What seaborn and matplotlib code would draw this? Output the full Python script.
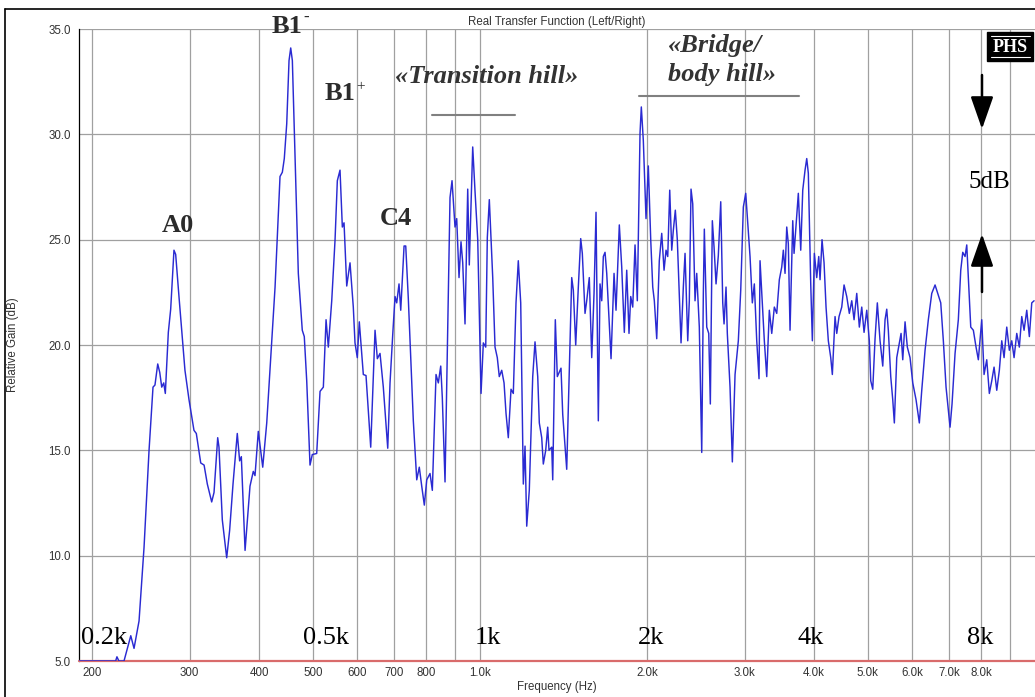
import matplotlib
matplotlib.use("Agg")
import matplotlib.pyplot as plt
import seaborn as sns
import pandas as pd
from matplotlib.lines import Line2D
from matplotlib.patches import Rectangle, FancyArrowPatch

# Measured transfer function (frequency in Hz, relative gain in dB)
freq_hz = [
    189.5, 220.6, 221.8, 223.6, 228.4, 234.9, 238.1, 243.1, 248.2, 253.4,
    257.6, 259.7, 262.7, 264.9, 267.1, 269.3, 271.1, 274.5, 277.2, 281.0,
    283.0, 286.9, 294.1, 299.1, 305.3, 308.3, 314.0, 318.4, 322.7, 328.6,
    331.8, 336.9, 338.7, 343.4, 349.7, 354.0, 359.0, 365.4, 369.0, 371.6,
    377.4, 385.2, 390.5, 393.3, 398.7, 406.1, 412.9, 421.6, 427.4, 433.3,
    436.3, 440.5, 444.1, 448.6, 452.9, 456.1, 459.2, 464.4, 470.7, 478.5,
    482.5, 487.4, 494.1, 498.8, 508.0, 515.1, 522.2, 528.1, 533.1, 540.7,
    548.2, 553.4, 559.6, 565.0, 569.0, 575.4, 583.3, 591.3, 595.5, 601.2,
    606.2, 616.4, 623.3, 635.6, 647.1, 653.3, 660.6, 669.7, 682.1, 688.6,
    696.4, 703.1, 708.0, 714.8, 719.9, 729.9, 735.0, 742.9, 758.5, 769.3,
    777.5, 785.4, 793.9, 801.9, 812.9, 820.7, 833.4, 841.4, 849.8, 855.4,
    865.1, 877.0, 883.2, 890.6, 901.7, 908.1, 916.8, 924.4, 931.0, 939.9,
    950.5, 956.7, 970.4, 979.7, 990.8, 1004.5, 1014.1, 1024.2, 1031.0, 1039.6,
    1054.4, 1064.5, 1074.6, 1083.5, 1094.5, 1105.1, 1114.2, 1124.8, 1137.5, 1148.4,
    1161.3, 1172.4, 1184.2, 1197.1, 1205.6, 1214.1, 1227.1, 1244.7, 1256.6, 1270.8,
    1279.2, 1292.0, 1300.6, 1313.6, 1324.6, 1331.7, 1346.8, 1352.4, 1367.0, 1378.4,
    1399.7, 1409.7, 1433.2, 1463.3, 1473.1, 1487.7, 1503.9, 1518.9, 1529.0, 1546.3,
    1557.2, 1573.9, 1589.9, 1605.2, 1618.5, 1634.0, 1645.6, 1657.3, 1668.3, 1680.2,
    1692.0, 1722.5, 1744.1, 1758.5, 1782.7, 1800.6, 1820.1, 1838.3, 1855.8, 1869.1,
    1884.8, 1902.8, 1920.9, 1942.6, 1953.1, 1969.4, 1991.6, 2010.6, 2030.8, 2047.8,
    2061.4, 2082.0, 2104.3, 2125.7, 2146.2, 2163.9, 2179.3, 2197.4, 2215.7, 2230.5,
    2249.0, 2267.6, 2283.7, 2302.9, 2324.9, 2341.5, 2367.8, 2383.4, 2400.4, 2417.4,
    2440.6, 2457.8, 2484.3, 2509.4, 2526.1, 2536.6, 2562.0, 2583.4, 2600.5, 2622.2,
    2640.9, 2662.8, 2688.2, 2715.2, 2737.9, 2752.8, 2775.5, 2790.4, 2822.0, 2849.1,
    2881.3, 2920.8, 2950.0, 2982.1, 3011.8, 3031.8, 3066.1, 3095.5, 3121.3, 3152.6,
    3182.6, 3196.0, 3226.7, 3253.5, 3286.1, 3321.6, 3355.1, 3391.4, 3425.3, 3462.3,
    3497.2, 3520.4, 3545.4, 3570.4, 3594.0, 3619.6, 3660.5, 3680.4, 3710.8, 3746.3,
    3783.8, 3815.5, 3852.1, 3879.3, 3905.0, 3944.1, 3970.5, 4003.5, 4043.6, 4077.4,
    4099.3, 4133.3, 4168.2, 4202.6, 4242.8, 4285.4, 4314.0, 4362.7, 4393.5, 4435.4,
    4485.6, 4528.8, 4579.6, 4629.0, 4675.7, 4720.7, 4773.6, 4825.2, 4873.7, 4920.6,
    4975.8, 5029.5, 5059.0, 5101.3, 5150.2, 5199.2, 5258.0, 5317.4, 5368.4, 5406.3,
    5442.0, 5496.6, 5542.6, 5579.4, 5635.3, 5696.1, 5736.9, 5777.5, 5832.9, 5888.3,
    5954.9, 6022.2, 6105.0, 6189.0, 6251.2, 6337.4, 6424.3, 6516.0, 6606.0, 6696.6,
    6763.7, 6837.2, 6914.1, 6980.1, 7029.8, 7088.2, 7177.4, 7275.8, 7348.9, 7410.4,
    7481.5, 7534.2, 7584.1, 7660.2, 7743.4, 7830.5, 7905.3, 8018.0, 8095.3, 8186.0,
    8274.4, 8357.7, 8438.2, 8532.8, 8624.9, 8711.7, 8795.6, 8894.2, 8990.3, 9080.8,
    9168.3, 9271.1, 9371.2, 9465.4, 9556.6, 9663.7, 9768.1, 9866.5, 9961.5,
]
gain_db = [
    5.0, 5.0, 5.2, 5.0, 5.0, 6.2, 5.6, 6.9, 10.4, 15.0,
    18.0, 18.1, 19.1, 18.7, 18.0, 18.2, 17.7, 20.6, 21.7, 24.5,
    24.3, 22.3, 18.8, 17.4, 15.95, 15.8, 14.4, 14.3, 13.4, 12.55,
    13.0, 15.6, 15.15, 11.7, 9.9, 11.2, 13.4, 15.8, 14.5, 14.7,
    10.25, 13.3, 14.0, 13.8, 15.9, 14.2, 16.3, 20.2, 22.75, 26.3,
    28.0, 28.2, 28.85, 30.5, 33.5, 34.1, 33.5, 28.9, 23.4, 20.7,
    20.4, 18.3, 14.3, 14.8, 14.85, 17.8, 18.0, 21.2, 19.9, 22.1,
    25.0, 27.8, 28.3, 25.6, 25.8, 22.8, 23.9, 21.8, 20.1, 19.4,
    21.1, 18.6, 18.55, 15.15, 20.7, 19.35, 19.6, 18.0, 15.1, 18.2,
    20.5, 22.3, 22.0, 22.9, 21.65, 24.7, 24.7, 22.2, 16.4, 13.6,
    14.2, 13.3, 12.4, 13.6, 13.9, 13.1, 18.6, 18.2, 19.0, 17.5,
    13.5, 22.3, 27.0, 27.8, 25.6, 26.0, 23.2, 24.9, 23.9, 21.0,
    27.4, 23.8, 29.4, 27.3, 25.0, 17.7, 20.1, 19.9, 25.1, 26.9,
    23.2, 19.9, 19.4, 18.5, 18.8, 18.2, 16.75, 15.6, 17.9, 17.7,
    22.0, 24.0, 22.0, 13.4, 15.2, 11.4, 13.1, 18.5, 20.15, 18.5,
    16.3, 15.6, 14.35, 15.0, 16.1, 15.0, 15.15, 13.6, 21.2, 18.5,
    18.9, 16.7, 14.1, 23.2, 22.6, 20.0, 22.75, 25.05, 24.35, 21.5,
    22.1, 23.2, 19.4, 22.45, 26.3, 16.4, 22.9, 22.1, 24.2, 24.4,
    23.4, 19.35, 23.4, 21.65, 25.7, 23.7, 20.6, 23.55, 20.55, 22.3,
    21.8, 24.75, 22.1, 30.05, 31.3, 29.7, 26.0, 28.5, 25.0, 22.75,
    22.1, 20.3, 24.0, 25.3, 23.55, 24.5, 24.2, 27.35, 24.5, 25.45,
    26.4, 25.0, 22.75, 20.1, 22.75, 24.35, 20.2, 22.1, 27.4, 26.7,
    22.1, 23.4, 20.85, 14.9, 22.45, 25.5, 20.85, 20.55, 17.2, 25.9,
    24.65, 22.9, 24.25, 26.8, 22.0, 21.0, 22.75, 20.55, 18.0, 14.45,
    18.6, 20.2, 22.6, 26.55, 27.2, 26.1, 24.2, 22.0, 22.9, 20.2,
    18.4, 24.0, 22.0, 20.2, 18.5, 21.65, 20.55, 21.8, 21.5, 23.1,
    23.7, 24.5, 23.4, 25.6, 24.8, 20.7, 25.9, 24.35, 25.7, 27.2,
    24.5, 27.35, 28.3, 28.85, 28.15, 22.9, 20.2, 24.35, 23.2, 24.2,
    23.1, 25.0, 23.9, 21.8, 20.2, 19.4, 18.6, 21.35, 20.55, 21.35,
    21.8, 22.85, 22.3, 21.5, 22.1, 21.2, 22.45, 20.85, 21.8, 20.6,
    21.65, 20.2, 18.3, 17.9, 20.3, 22.0, 20.2, 19.0, 21.2, 21.7,
    20.7, 18.5, 17.4, 16.3, 19.4, 20.1, 20.55, 19.3, 21.1, 19.9,
    19.4, 18.2, 17.4, 16.3, 17.85, 19.75, 21.2, 22.45, 22.85, 22.35,
    22.0, 20.2, 18.0, 16.9, 16.1, 17.2, 19.6, 21.2, 23.55, 24.4,
    24.2, 24.75, 23.2, 20.85, 20.7, 19.9, 19.3, 21.2, 18.6, 19.3,
    17.7, 18.3, 18.95, 17.85, 18.8, 20.2, 19.4, 20.85, 19.75, 20.2,
    19.4, 20.55, 19.9, 21.35, 20.7, 21.65, 20.4, 22.0, 22.1,
]

x_ticks = [200, 300, 400, 500, 600, 700, 800, 900, 1000,
           2000, 3000, 4000, 5000, 6000, 7000, 8000, 9000]
x_tick_labels = ["200", "300", "400", "500", "600", "700", "800", "", "1.0k",
                 "2.0k", "3.0k", "4.0k", "5.0k", "6.0k", "7.0k", "8.0k", ""]
y_ticks = [5, 10, 15, 20, 25, 30, 35]
y_tick_labels = ["5.0", "10.0", "15.0", "20.0", "25.0", "30.0", "35.0"]

band_labels = ["0.2k", "0.5k", "1k", "2k", "4k", "8k"]
peak_labels = ["A0", "B1", "B1", "C4"]

W, H = 1035, 697
sns.set_style("white")
plt.rcParams["font.family"] = ["Liberation Sans", "DejaVu Sans"]


def fx(x):
    return x / W


def fy(y):
    return 1 - y / H


fig = plt.figure(figsize=(W / 100, H / 100), dpi=100)
fig.patch.set_facecolor("white")
ax = fig.add_axes([fx(79), fy(661), (1035 - 79) / W, (661 - 29) / H])

df = pd.DataFrame({"freq": freq_hz, "gain": gain_db})
ax.set_xscale("log")
sns.lineplot(data=df, x="freq", y="gain", ax=ax, color="#2a2ad2",
             linewidth=1.05, estimator=None, zorder=4)

ax.set_xlim(189.5, 10000)
ax.set_ylim(5, 35)
ax.set_xticks(x_ticks)
ax.set_xticklabels(x_tick_labels)
ax.xaxis.set_minor_locator(matplotlib.ticker.NullLocator())
ax.set_yticks(y_ticks)
ax.set_yticklabels(y_tick_labels)
ax.tick_params(axis="both", length=0, labelsize=8.3, labelcolor="#333333")
ax.tick_params(axis="x", pad=4)
ax.tick_params(axis="y", pad=6)
ax.grid(True, which="major", color="#a0a0a0", linewidth=0.9)
ax.set_axisbelow(True)

for side in ["top", "right", "bottom"]:
    ax.spines[side].set_visible(False)
ax.spines["left"].set_color("black")
ax.spines["left"].set_linewidth(0.9)
ax.axhline(5, color="#d96b6b", linewidth=1.6, zorder=3, clip_on=False)

ax.set_xlabel("Frequency (Hz)", fontsize=8.3, color="#333333")
ax.set_ylabel("Relative Gain (dB)", fontsize=8.3, color="#333333")
ax.xaxis.set_label_coords(0.5, (661 - 681) / 632)
ax.yaxis.set_label_coords((19 - 79) / 956, 0.5)
ax.text(0.5, 1 + 7 / 632, "Real Transfer Function (Left/Right)", transform=ax.transAxes,
        ha="center", va="center", fontsize=8.3, color="#333333")

# outer frame (top and left edges)
fig.add_artist(Line2D([fx(5), fx(1035)], [fy(9), fy(9)], color="black", lw=1.2))
fig.add_artist(Line2D([fx(5), fx(5)], [fy(9), fy(697)], color="black", lw=1.2))

serif = ["Liberation Serif", "DejaVu Serif"]

# resonance labels
peak_pos = [(162, 232), (272, 33), (325, 100), (380, 225)]
for lab, (px, py) in zip(peak_labels, peak_pos):
    fig.text(fx(px), fy(py), lab, ha="left", va="baseline", fontsize=19,
             fontweight="bold", family=serif, color="#2b2b2b")
fig.text(fx(303), fy(22), "-", ha="left", va="baseline", fontsize=12,
         fontweight="bold", family=serif, color="#2b2b2b")
fig.text(fx(356), fy(90), "+", ha="left", va="baseline", fontsize=11,
         family=serif, color="#2b2b2b")

# hill annotations
fig.text(fx(395), fy(83), "«Transition hill»", ha="left", va="baseline", fontsize=19,
         fontweight="bold", fontstyle="italic", family=serif, color="#333333")
fig.add_artist(Line2D([fx(432), fx(515)], [fy(115), fy(115)], color="#808080", lw=1.5))
fig.text(fx(668), fy(52), "«Bridge/", ha="left", va="baseline", fontsize=19,
         fontweight="bold", fontstyle="italic", family=serif, color="#333333")
fig.text(fx(668), fy(81), "body hill»", ha="left", va="baseline", fontsize=19,
         fontweight="bold", fontstyle="italic", family=serif, color="#333333")
fig.add_artist(Line2D([fx(639), fx(799)], [fy(95.5), fy(95.5)], color="#808080", lw=1.5))

# band markers along the bottom
band_pos = [81, 303, 475, 638, 798, 967]
for lab, px in zip(band_labels, band_pos):
    fig.text(fx(px), fy(644), lab, ha="left", va="baseline", fontsize=19,
             family=serif, color="black")

# 5 dB scale marker
fig.text(fx(968), fy(188), "5dB", ha="left", va="baseline", fontsize=18,
         family=serif, color="black")
for (y0, y1) in [(75, 129), (292, 234)]:
    fig.add_artist(FancyArrowPatch((fx(982), fy(y0)), (fx(982), fy(y1)),
                                   transform=fig.transFigure,
                                   arrowstyle="-|>,head_length=1.0,head_width=0.35",
                                   mutation_scale=20, color="black", lw=1.8,
                                   shrinkA=0, shrinkB=0))

# logo badge
fig.add_artist(Rectangle((fx(987), fy(61)), (1033 - 987) / W, (61 - 32) / H,
                         transform=fig.transFigure, facecolor="black",
                         edgecolor="black"))
fig.text(fx(1010), fy(52), "PHS", ha="center", va="baseline", fontsize=13,
         fontweight="bold", family=serif, color="white")
for yy in (35.5, 57):
    fig.add_artist(Line2D([fx(991), fx(1030)], [fy(yy), fy(yy)], color="white", lw=0.8))

fig.savefig("out.png", dpi=100)
